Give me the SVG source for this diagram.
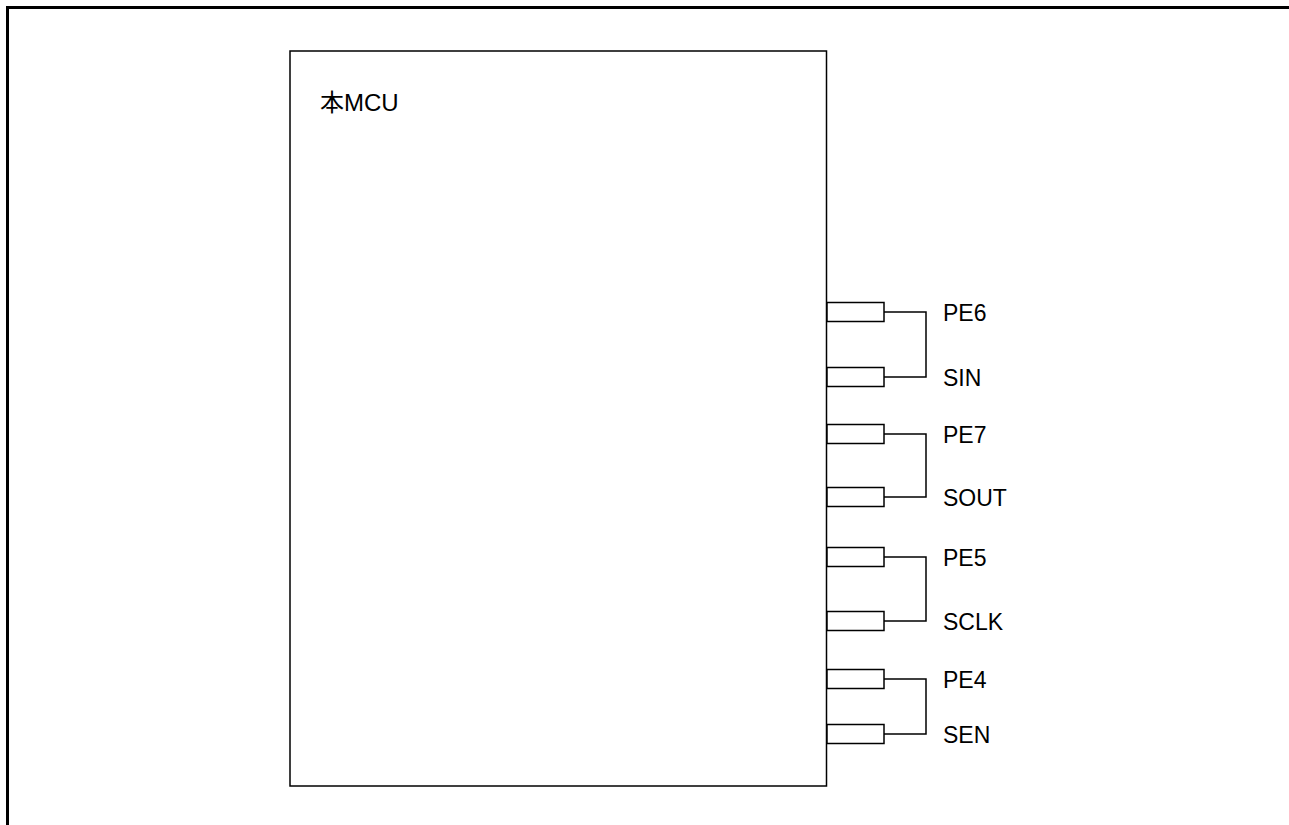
<svg xmlns="http://www.w3.org/2000/svg" width="1289" height="825" viewBox="0 0 1289 825">
<style>
.frame{fill:none;stroke:#000;stroke-width:3}
.box{fill:#fff;stroke:#000;stroke-width:1.5}
.pin{fill:#fff;stroke:#000;stroke-width:1.5}
.wire{fill:none;stroke:#000;stroke-width:1.5}
.lbl{font-family:"Liberation Sans","Noto Sans CJK JP",Arial,sans-serif;font-size:23px;fill:#000}
.title{font-size:24px}
</style>
<rect width="1289" height="825" fill="#fff"/>
<path class="frame" d="M7.5,825 V7.5 H1289"/>
<g id="mcu">
<rect class="box" x="290" y="51" width="536.5" height="735"/>
<text class="lbl title" x="320" y="111">本MCU</text>
</g>
<g id="pins">
<rect class="pin" x="827" y="302.5" width="57" height="19"/>
<rect class="pin" x="827" y="367.5" width="57" height="19"/>
<rect class="pin" x="827" y="424.5" width="57" height="19"/>
<rect class="pin" x="827" y="487.5" width="57" height="19"/>
<rect class="pin" x="827" y="547.5" width="57" height="19"/>
<rect class="pin" x="827" y="611.5" width="57" height="19"/>
<rect class="pin" x="827" y="669.5" width="57" height="19"/>
<rect class="pin" x="827" y="724.5" width="57" height="19"/>
</g>
<g id="connectors">
<path class="wire" d="M884,312 H926 V377 H884"/>
<path class="wire" d="M884,434 H926 V497 H884"/>
<path class="wire" d="M884,557 H926 V621 H884"/>
<path class="wire" d="M884,679 H926 V734 H884"/>
</g>
<g id="labels">
<text class="lbl" x="943" y="321">PE6</text>
<text class="lbl" x="943" y="386">SIN</text>
<text class="lbl" x="943" y="443">PE7</text>
<text class="lbl" x="943" y="506">SOUT</text>
<text class="lbl" x="943" y="566">PE5</text>
<text class="lbl" x="943" y="630">SCLK</text>
<text class="lbl" x="943" y="688">PE4</text>
<text class="lbl" x="943" y="743">SEN</text>
</g>
</svg>
